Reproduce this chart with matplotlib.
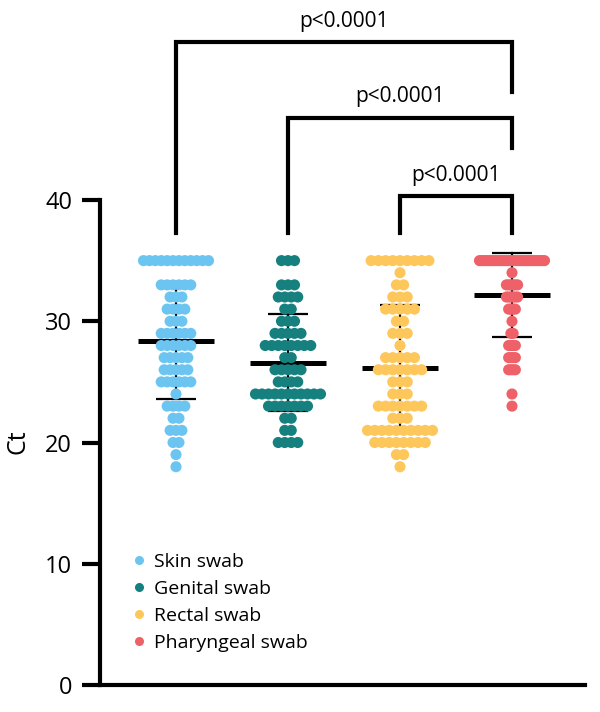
import numpy as np
import matplotlib.pyplot as plt
from matplotlib.lines import Line2D

plt.rcParams['font.family'] = ['Open Sans', 'DejaVu Sans']

# Ct值与每个值上的点数
groups = ['Skin swab', 'Genital swab', 'Rectal swab', 'Pharyngeal swab']
colors = ['#6CC5F0', '#16807F', '#FDC75B', '#EF6169']

skin_ct = [35, 33, 32, 31, 30, 29, 28, 27, 26, 25, 24, 23, 22, 21, 20, 19, 18]
skin_n = [12, 6, 3, 4, 3, 6, 6, 5, 5, 6, 1, 4, 2, 3, 2, 1, 1]

genital_ct = [35, 33, 32, 31, 30, 29, 28, 27, 26, 25, 24, 23, 22, 21, 20]
genital_n = [3, 3, 4, 2, 3, 5, 8, 2, 5, 4, 11, 7, 2, 2, 4]

rectal_ct = [35, 34, 33, 32, 31, 30, 29, 28, 27, 26, 25, 24, 23, 22, 21, 20, 19, 18]
rectal_n = [9, 1, 2, 3, 5, 2, 3, 1, 5, 7, 3, 3, 7, 3, 10, 8, 2, 1]

pharyngeal_ct = [35, 34, 33, 32, 31, 30, 29, 28, 27, 26, 24, 23]
pharyngeal_n = [30, 1, 6, 6, 4, 1, 2, 4, 4, 4, 1, 1]

# 比较的组对与p值
pairs = [(1, 4), (2, 4), (3, 4)]
p_labels = ['p<0.0001', 'p<0.0001', 'p<0.0001']

data = [(skin_ct, skin_n), (genital_ct, genital_n),
        (rectal_ct, rectal_n), (pharyngeal_ct, pharyngeal_n)]

fig = plt.figure(figsize=(6, 7.12), dpi=100)
ax = fig.add_axes([100/600, 27/712, 485/600, 685/712])
ax.set_xlim(1 - 76/112, 4 + 73/112)
ax.set_ylim(0, 685/12.125)
px = 1/112  # 横向每像素的数据单位

for k, (cts, ns) in enumerate(data):
    xc = k + 1
    sp = (74 - 9) / (max(ns) - 1) * px  # 每列压缩到最宽一行合适
    for ct, n in zip(cts, ns):
        xs = xc + (np.arange(n) - (n - 1) / 2) * sp
        ax.scatter(xs, np.full(n, ct), s=64, color=colors[k],
                   edgecolors='none', zorder=3)
    vals = np.repeat(cts, ns)
    m, sd = vals.mean(), vals.std(ddof=1)
    ax.plot([xc - 0.335, xc + 0.335], [m, m], color='k', lw=3.6,
            solid_capstyle='butt', zorder=2)
    for yy in (m - sd, m + sd):
        ax.plot([xc - 0.18, xc + 0.18], [yy, yy], color='k', lw=1.6,
                solid_capstyle='butt', zorder=2)
    ax.plot([xc, xc], [m - sd, m + sd], color='k', lw=1.6, zorder=2)

# 显著性括号
leg_bottom = 37.3
tops = [53.0, 46.8, 40.3]
right_bottoms = [48.9, 44.3, 37.3]
for (a, b), top, rb, lab in zip(pairs, tops, right_bottoms, p_labels):
    ax.plot([a, a, b, b], [leg_bottom, top, top, rb], color='k', lw=3,
            solid_joinstyle='miter', clip_on=False)
    ax.text((a + b) / 2, top + 1.75, lab, ha='center', va='center', fontsize=15)

# 坐标轴
for s in ('top', 'right'):
    ax.spines[s].set_visible(False)
ax.spines['left'].set_linewidth(3)
ax.spines['bottom'].set_linewidth(3)
ax.spines['left'].set_bounds(0, 40)
ax.set_xticks([])
ax.set_yticks([0, 10, 20, 30, 40])
ax.tick_params(axis='y', length=13, width=3, pad=7, labelsize=17)
fig.text(18/600, 1 - 442/712, 'Ct', rotation=90, ha='center', va='center', fontsize=18)

handles = [Line2D([], [], marker='o', ls='', markersize=6.5, color=c,
                  markeredgewidth=0) for c in colors]
ax.legend(handles, groups, loc='upper left', bbox_to_anchor=(0.06, 0.193),
          frameon=False, fontsize=14, handlelength=1, handletextpad=0.3,
          borderpad=0, borderaxespad=0, labelspacing=0.46)

plt.savefig('out.png', dpi=100)
